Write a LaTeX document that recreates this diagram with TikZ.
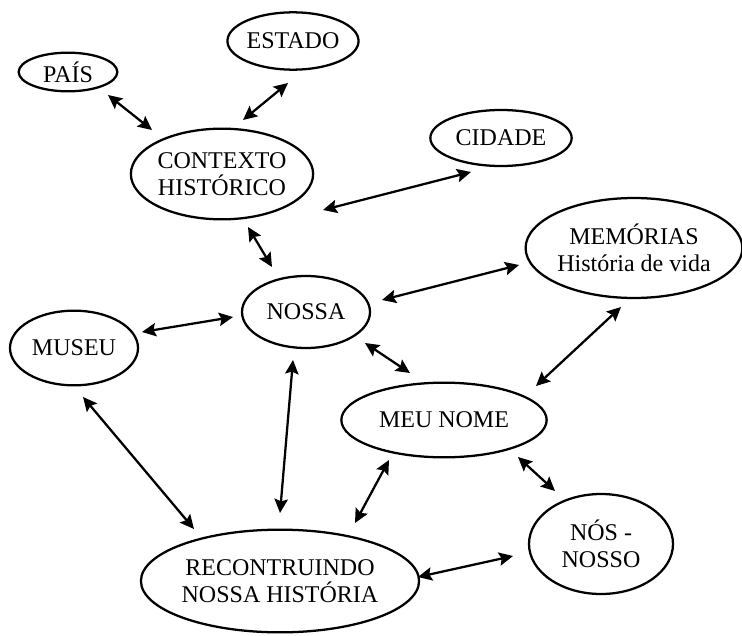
\documentclass[tikz,border=0pt]{standalone}
\usepackage{fontspec}
\setmainfont{Liberation Serif}
\usetikzlibrary{shapes.geometric,arrows.meta}
\begin{document}
\begin{tikzpicture}[x=0.75pt,y=-0.75pt,
  topic/.style={draw,ellipse,line width=1.7pt,inner sep=0pt,align=center,
    font=\fontsize{18}{20.5}\selectfont},
  biarrow/.style={line width=1.7pt,
    {Stealth[length=10.5pt,width=10pt,inset=1.8pt]}-{Stealth[length=10.5pt,width=10pt,inset=1.8pt]}}]
\useasboundingbox (0,0) rectangle (742,635);

% concept ellipses (sizes in pt)
\node[topic,minimum width=74pt,minimum height=29pt] (pais) at (68,72) {PAÍS};
\node[topic,minimum width=96pt,minimum height=43pt] (estado) at (293,41) {ESTADO};
\node[topic,minimum width=129pt,minimum height=68pt] (ctx) at (222,174) {CONTEXTO\\HISTÓRICO};
\node[topic,minimum width=106pt,minimum height=42pt] (cidade) at (501,138) {CIDADE};
\node[topic,minimum width=157pt,minimum height=75pt] (mem) at (634,248) {MEMÓRIAS\\História de vida};
\node[topic,minimum width=96pt,minimum height=54pt] (nossa) at (306,312) {NOSSA};
\node[topic,minimum width=96pt,minimum height=56pt] (museu) at (74,348) {MUSEU};
\node[topic,minimum width=154pt,minimum height=56pt] (meu) at (444,420) {MEU NOME};
\node[topic,minimum width=190pt,minimum height=77pt] (rec) at (280,581) {RECONTRUINDO\\NOSSA HISTÓRIA};
\node[topic,minimum width=108pt,minimum height=75pt] (nos) at (601,544) {NÓS -\\NOSSO};

% arrow end points
\coordinate (a1) at (108,95);  \coordinate (b1) at (152,130);
\coordinate (a2) at (288,83);  \coordinate (b2) at (243,120);
\coordinate (a3) at (323,210); \coordinate (b3) at (471,172);
\coordinate (a4) at (248,227); \coordinate (b4) at (272,267);
\coordinate (a5) at (142,332); \coordinate (b5) at (233,317);
\coordinate (a6) at (382,300); \coordinate (b6) at (519,265);
\coordinate (a7) at (365,343); \coordinate (b7) at (410,373);
\coordinate (a8) at (536,386); \coordinate (b8) at (621,307);
\coordinate (a9) at (83,397);  \coordinate (b9) at (194,529);
\coordinate (a10) at (293,360); \coordinate (b10) at (280,513);
\coordinate (a11) at (355,523); \coordinate (b11) at (389,460);
\coordinate (a12) at (418,577); \coordinate (b12) at (513,556);
\coordinate (a13) at (518,457); \coordinate (b13) at (555,491);

% connectors
\draw[biarrow] (a1) -- (b1);
\draw[biarrow] (a2) -- (b2);
\draw[biarrow] (a3) -- (b3);
\draw[biarrow] (a4) -- (b4);
\draw[biarrow] (a5) -- (b5);
\draw[biarrow] (a6) -- (b6);
\draw[biarrow] (a7) -- (b7);
\draw[biarrow] (a8) -- (b8);
\draw[biarrow] (a9) -- (b9);
\draw[biarrow] (a10) -- (b10);
\draw[biarrow] (a11) -- (b11);
\draw[biarrow] (a12) -- (b12);
\draw[biarrow] (a13) -- (b13);
\end{tikzpicture}
\end{document}
